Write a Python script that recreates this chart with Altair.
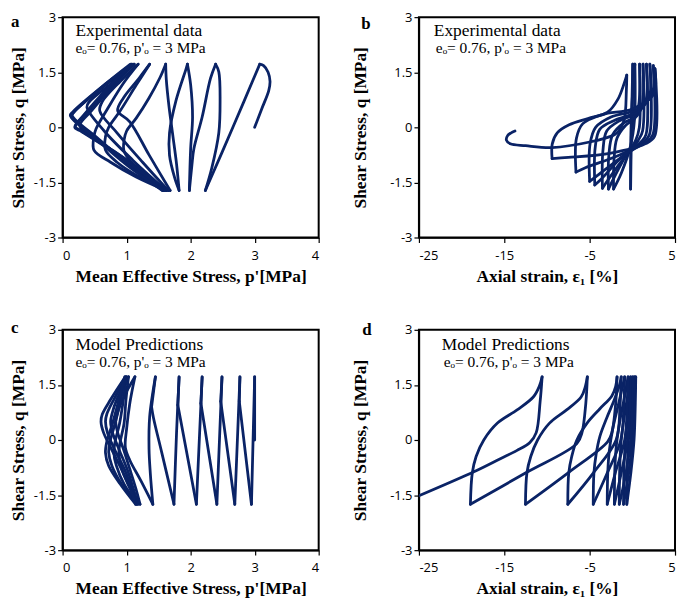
import altair as alt
import pandas as pd

NAVY = "#0a2366"

Y_TICKS = [-3, -1.5, 0, 1.5, 3]
P_TICKS = [0, 1, 2, 3, 4]
E_TICKS = [-25, -15, -5, 5]

# Panel a: experimental stress path (p', q), segments in loading order
A_SEGS = [
    [(3.00, 0.00), (3.11, 0.50), (3.22, 1.00), (3.24, 1.25), (3.21, 1.50), (3.14, 1.68), (3.08, 1.72)],
    [(3.08, 1.72), (2.66, 0.00), (2.23, -1.72)],
    [(2.23, -1.72), (2.33, -1.11), (2.44, -0.15), (2.46, 0.72), (2.44, 1.51), (2.39, 1.72)],
    [(2.39, 1.72), (2.31, 1.33), (2.18, 0.28), (2.05, -0.59), (2.02, -1.03), (1.98, -1.72)],
    [(1.98, -1.72), (2.00, -0.59), (2.03, 0.28), (2.00, 1.16), (1.95, 1.72)],
    [(1.95, 1.72), (1.93, 1.60), (1.77, 0.72), (1.67, -0.15), (1.67, -0.76), (1.75, -1.37), (1.82, -1.72)],
    [(1.82, -1.72), (1.78, -1.00), (1.72, -0.20), (1.66, 0.60), (1.62, 1.30), (1.61, 1.72)],
    [(1.61, 1.72), (1.52, 1.35), (1.35, 0.80), (1.15, 0.25), (1.00, -0.10), (0.96, -0.35), (0.96, -0.65),
     (1.10, -1.00), (1.35, -1.35), (1.55, -1.60), (1.68, -1.72)],
    [(1.68, -1.72), (1.35, -0.75), (1.05, 0.15), (0.86, 0.45), (0.95, 0.80), (1.20, 1.35), (1.36, 1.72)],
    [(1.36, 1.72), (1.15, 1.15), (0.90, 0.45), (0.72, 0.00), (0.67, -0.25), (0.67, -0.62), (0.85, -0.95),
     (1.20, -1.35), (1.65, -1.72)],
    [(1.65, -1.72), (1.25, -0.95), (0.85, -0.15), (0.58, 0.45), (0.62, 0.70), (0.90, 1.25), (1.18, 1.72)],
    [(1.18, 1.72), (0.95, 1.20), (0.70, 0.50), (0.52, -0.05), (0.49, -0.25), (0.49, -0.62), (0.75, -0.95),
     (1.15, -1.35), (1.62, -1.72)],
    [(1.62, -1.72), (1.10, -0.90), (0.65, -0.10), (0.38, 0.55), (0.42, 0.70), (0.75, 1.18), (1.12, 1.72)],
    [(1.12, 1.72), (0.80, 1.15), (0.45, 0.45), (0.27, 0.05), (0.40, -0.20), (0.80, -0.65), (1.20, -1.15),
     (1.60, -1.72)],
    [(1.60, -1.72), (1.10, -1.10), (0.55, -0.30), (0.15, 0.32), (0.18, 0.42), (0.60, 1.05), (1.10, 1.72)],
    [(1.10, 1.72), (0.75, 1.10), (0.35, 0.35), (0.20, 0.02), (0.30, -0.10), (0.80, -0.65), (1.25, -1.20),
     (1.58, -1.72)],
    [(1.58, -1.72), (1.05, -1.05), (0.50, -0.25), (0.12, 0.33), (0.16, 0.42), (0.60, 1.08), (1.08, 1.72)],
    [(1.08, 1.72), (0.72, 1.10), (0.33, 0.33), (0.19, 0.00), (0.30, -0.12), (0.80, -0.68), (1.25, -1.25),
     (1.56, -1.72)],
    [(1.56, -1.72), (1.02, -1.05), (0.48, -0.25), (0.13, 0.30), (0.17, 0.40), (0.58, 1.05), (1.06, 1.72)],
]

# Panel b: experimental axial strain (%) vs q
B_SEGS = [
    [(0.00, 0.00), (0.02, 0.90), (0.05, 1.72)],
    [(0.05, 1.72), (-0.10, 0.00), (-0.20, -1.68)],
    [(-0.20, -1.68), (-0.15, 0.00), (0.10, 1.20), (0.30, 1.72)],
    [(0.30, 1.72), (0.25, 0.20), (-0.20, -0.50), (-1.30, -1.25), (-2.20, -1.68)],
    [(-2.20, -1.68), (-2.15, -0.90), (-1.80, -0.30), (-0.80, 0.05), (0.30, 0.25), (0.75, 0.60), (0.85, 1.72)],
    [(0.85, 1.72), (0.82, 0.00), (0.40, -0.35), (-1.20, -0.95), (-2.80, -1.68)],
    [(-2.80, -1.68), (-2.75, -0.75), (-2.30, -0.20), (-1.00, 0.12), (0.50, 0.30), (1.15, 0.60), (1.25, 1.72)],
    [(1.25, 1.72), (1.20, -0.10), (0.70, -0.35), (-1.20, -0.90), (-2.90, -1.45), (-3.50, -1.66)],
    [(-3.50, -1.66), (-3.45, -0.65), (-3.00, -0.10), (-1.50, 0.18), (0.50, 0.38), (1.55, 0.70), (1.65, 1.72)],
    [(1.65, 1.72), (1.60, -0.20), (1.00, -0.40), (-1.20, -0.80), (-3.60, -1.40), (-4.40, -1.57)],
    [(-4.40, -1.57), (-4.35, -0.55), (-3.80, -0.05), (-2.00, 0.20), (0.50, 0.42), (1.95, 0.80), (2.05, 1.72)],
    [(2.05, 1.72), (2.00, -0.20), (1.20, -0.42), (-1.50, -0.85), (-4.30, -1.35), (-5.00, -1.47)],
    [(-5.00, -1.47), (-4.95, -0.45), (-4.30, 0.00), (-2.50, 0.28), (0.50, 0.48), (2.30, 0.90), (2.45, 1.68)],
    [(2.45, 1.68), (2.40, -0.20), (1.50, -0.42), (-2.00, -0.80), (-5.50, -1.10), (-6.60, -1.22)],
    [(-6.60, -1.22), (-6.55, -0.30), (-5.80, 0.10), (-3.50, 0.35), (0.00, 0.50), (2.50, 0.90), (2.65, 1.60)],
    [(2.65, 1.60), (2.60, -0.25), (1.50, -0.45), (-2.50, -0.70), (-7.50, -0.82), (-9.40, -0.85)],
    [(-9.40, -0.85), (-9.38, -0.45), (-8.80, -0.15), (-7.40, 0.07), (-5.20, 0.24), (-2.90, 0.41),
     (-1.70, 0.76), (-0.95, 1.20), (-0.65, 1.42)],
    [(-0.65, 1.42), (-0.70, 1.00), (-0.95, 0.20), (-1.60, -0.10), (-2.10, -0.20), (-5.00, -0.40),
     (-9.40, -0.55), (-12.50, -0.50), (-14.30, -0.45), (-14.75, -0.35), (-14.60, -0.22), (-14.20, -0.15),
     (-13.75, -0.10)],
]

# Panel c: model stress path (p', q)
C_SEGS = [
    [(3.00, 0.00), (3.00, 1.72)],
    [(3.00, 1.72), (2.95, -1.75)],
    [(2.95, -1.75), (2.76, 1.05)], [(2.76, 1.05), (2.77, 1.72)],
    [(2.77, 1.72), (2.69, -1.75)],
    [(2.69, -1.75), (2.47, 1.05)], [(2.47, 1.05), (2.49, 1.72)],
    [(2.49, 1.72), (2.41, -1.75)],
    [(2.41, -1.75), (2.16, 1.00)], [(2.16, 1.00), (2.18, 1.72)],
    [(2.18, 1.72), (2.09, -1.75)],
    [(2.09, -1.75), (1.80, 0.95)], [(1.80, 0.95), (1.82, 1.72)],
    [(1.82, 1.72), (1.78, 0.20), (1.74, -1.75)],
    [(1.74, -1.75), (1.55, -0.35), (1.42, 0.60), (1.39, 0.90)], [(1.39, 0.90), (1.45, 1.72)],
    [(1.45, 1.72), (1.36, 0.63), (1.35, -0.24), (1.37, -0.90), (1.41, -1.75)],
    [(1.41, -1.75), (1.22, -1.10), (1.05, -0.55), (0.98, -0.20), (1.00, 0.30), (1.05, 1.00), (1.13, 1.72)],
    [(1.13, 1.72), (0.95, 1.15), (0.85, 0.70), (0.83, 0.50), (0.86, 0.20), (0.95, -0.25), (1.06, -0.85),
     (1.14, -1.30), (1.21, -1.75)],
    [(1.21, -1.75), (1.02, -1.20), (0.91, -0.70), (0.88, -0.33), (0.90, -0.05), (0.96, 0.45), (0.99, 1.10),
     (1.03, 1.72)],
    [(1.03, 1.72), (0.85, 1.12), (0.77, 0.70), (0.75, 0.50), (0.78, 0.20), (0.88, -0.25), (1.02, -0.85),
     (1.10, -1.30), (1.18, -1.75)],
    [(1.18, -1.75), (0.96, -1.20), (0.84, -0.70), (0.80, -0.33), (0.82, -0.05), (0.89, 0.45), (0.95, 1.10),
     (1.00, 1.72)],
    [(1.00, 1.72), (0.80, 1.10), (0.69, 0.70), (0.67, 0.50), (0.70, 0.20), (0.81, -0.25), (0.98, -0.85),
     (1.07, -1.30), (1.16, -1.75)],
    [(1.16, -1.75), (0.92, -1.20), (0.77, -0.70), (0.72, -0.33), (0.74, -0.05), (0.82, 0.45), (0.91, 1.10),
     (0.98, 1.72)],
    [(0.98, 1.72), (0.75, 1.10), (0.62, 0.70), (0.60, 0.50), (0.64, 0.20), (0.75, -0.20), (0.92, -0.80),
     (1.05, -1.30), (1.14, -1.75)],
    [(1.14, -1.75), (0.90, -1.20), (0.72, -0.70), (0.67, -0.35), (0.69, -0.05), (0.78, 0.45), (0.88, 1.10),
     (0.97, 1.72)],
]

# Panel d: model axial strain (%) vs q
D_SEGS = [
    [(0.00, 0.00), (0.15, 0.80), (0.30, 1.40), (0.40, 1.72)],
    [(0.40, 1.72), (0.35, 1.00), (0.20, 0.00), (-0.15, -0.85), (-0.65, -1.75)],
    [(-0.65, -1.75), (-0.60, -0.80), (-0.45, 0.00), (-0.15, 0.80), (0.10, 1.40), (0.25, 1.72)],
    [(0.25, 1.72), (0.18, 0.90), (0.00, 0.00), (-0.40, -0.85), (-1.03, -1.75)],
    [(-1.03, -1.75), (-0.98, -0.80), (-0.80, 0.00), (-0.45, 0.80), (-0.12, 1.45), (0.05, 1.72)],
    [(0.05, 1.72), (-0.02, 0.90), (-0.20, 0.00), (-0.75, -0.90), (-1.53, -1.75)],
    [(-1.53, -1.75), (-1.48, -0.80), (-1.30, 0.00), (-0.90, 0.70), (-0.40, 1.40), (-0.20, 1.72)],
    [(-0.20, 1.72), (-0.30, 0.90), (-0.55, 0.00), (-1.30, -0.90), (-2.10, -1.75)],
    [(-2.10, -1.75), (-2.05, -0.80), (-1.85, -0.10), (-1.40, 0.60), (-0.80, 1.30), (-0.50, 1.72)],
    [(-0.50, 1.72), (-0.60, 0.90), (-0.90, 0.00), (-2.00, -0.90), (-2.94, -1.75)],
    [(-2.94, -1.75), (-2.88, -0.90), (-2.70, -0.30), (-2.30, 0.30), (-1.60, 1.00), (-1.10, 1.50), (-0.90, 1.72)],
    [(-0.90, 1.72), (-1.00, 0.90), (-1.35, 0.00), (-2.94, -0.90), (-4.58, -1.75)],
    [(-4.58, -1.75), (-4.50, -0.90), (-4.25, -0.40), (-3.80, 0.10), (-3.00, 0.60), (-2.10, 1.10),
     (-1.50, 1.50), (-1.30, 1.72)],
    [(-1.30, 1.72), (-1.45, 0.90), (-1.90, 0.00), (-4.58, -0.90), (-7.56, -1.75)],
    [(-7.56, -1.75), (-7.45, -0.90), (-7.10, -0.45), (-6.50, 0.00), (-5.30, 0.46), (-3.80, 0.85),
     (-2.40, 1.20), (-1.95, 1.46), (-1.79, 1.72)],
    [(-1.79, 1.72), (-1.95, 1.00), (-2.40, 0.20), (-2.90, -0.05), (-7.56, -0.90), (-12.52, -1.75)],
    [(-12.52, -1.75), (-12.35, -0.90), (-11.90, -0.45), (-11.10, 0.00), (-9.70, 0.46), (-7.70, 0.82),
     (-6.00, 1.17), (-5.50, 1.46), (-5.27, 1.72)],
    [(-5.27, 1.72), (-5.45, 1.00), (-5.90, 0.20), (-6.50, -0.10), (-12.52, -0.90), (-18.97, -1.75)],
    [(-18.97, -1.75), (-18.75, -0.90), (-18.30, -0.45), (-17.40, 0.00), (-15.80, 0.46), (-13.50, 0.82),
     (-11.60, 1.17), (-10.90, 1.46), (-10.57, 1.72)],
    [(-10.57, 1.72), (-10.80, 1.05), (-11.26, 0.20), (-12.00, -0.07), (-13.55, -0.29), (-15.46, -0.51),
     (-18.50, -0.86), (-25.00, -1.52)],
]

HEAD_EXP = "Experimental data"
HEAD_MOD = "Model Predictions"
SUB = "e\u2092= 0.76, p'\u2092 = 3 MPa"
X_P = "Mean Effective Stress, p'[MPa]"
X_E = "Axial strain, \u03b5\u2081 [%]"
Y_T = "Shear Stress, q [MPa]"

W, H = 258, 222
SERIF = "Liberation Serif"
SANS = "Open Sans"


def to_frame(segs):
    rows = []
    for s, seg in enumerate(segs):
        for i, (x, y) in enumerate(seg):
            rows.append({"seg": s, "i": i, "x": x, "y": y})
    return pd.DataFrame(rows)


def panel(segs, xdom, xvals, xtitle, head, letter, ytp, letter_xy, head_x, sub_x, head_y):
    df = to_frame(segs)
    lines = alt.Chart(df).mark_line(
        color=NAVY, strokeWidth=2.8, interpolate="catmull-rom",
        strokeCap="round", strokeJoin="round", clip=True
    ).encode(
        x=alt.X("x:Q", scale=alt.Scale(domain=xdom, nice=False, zero=False),
                axis=alt.Axis(values=xvals, title=xtitle, labelExpr="'' + datum.value",
                              tickSize=5, labelPadding=7, titlePadding=5)),
        y=alt.Y("y:Q", scale=alt.Scale(domain=[-3, 3], nice=False, zero=False),
                axis=alt.Axis(values=Y_TICKS, title=Y_T, labelExpr="'' + datum.value",
                              tickSize=5, labelPadding=2, titlePadding=ytp)),
        detail="seg:N",
        order="i:Q",
    )
    t1 = alt.Chart(pd.DataFrame({"t": [head]})).mark_text(
        align="left", baseline="alphabetic", font=SERIF, fontSize=17.5, color="black"
    ).encode(text="t:N", x=alt.value(head_x), y=alt.value(head_y))
    t2 = alt.Chart(pd.DataFrame({"t": [SUB]})).mark_text(
        align="left", baseline="alphabetic", font=SERIF, fontSize=15.5, color="black"
    ).encode(text="t:N", x=alt.value(sub_x), y=alt.value(head_y + 17))
    t3 = alt.Chart(pd.DataFrame({"t": [letter]})).mark_text(
        align="left", baseline="alphabetic", font=SERIF, fontSize=17, fontWeight="bold", color="black"
    ).encode(text="t:N", x=alt.value(letter_xy[0]), y=alt.value(letter_xy[1]))
    return alt.layer(lines, t1, t2, t3).properties(width=W, height=H)


pa = panel(A_SEGS, [0, 4], P_TICKS, X_P, HEAD_EXP, "a", 6, (-52, 10), 13, 13, 19)
pb = panel(B_SEGS, [-25, 5], E_TICKS, X_E, HEAD_EXP, "b", 20, (-58, 12), 15, 17, 19)
pc = panel(C_SEGS, [0, 4], P_TICKS, X_P, HEAD_MOD, "c", 6, (-52, 3), 13, 13, 20)
pd_ = panel(D_SEGS, [-25, 5], E_TICKS, X_E, HEAD_MOD, "d", 20, (-57, 5), 23, 25, 20)

chart = alt.vconcat(
    alt.hconcat(pa, pb, spacing=30),
    alt.hconcat(pc, pd_, spacing=30),
    spacing=32,
).properties(padding=0, background="white").configure_view(
    stroke="black", strokeWidth=2
).configure_axis(
    grid=False, domainColor="black", domainWidth=1.5, tickColor="black", tickWidth=1.2,
    labelFont=SANS, labelFontSize=13, labelColor="black",
    titleFont=SERIF, titleFontSize=17.5, titleFontWeight="bold", titleColor="black",
)

chart.save("out.html", embed_options={"renderer": "svg", "actions": False})
